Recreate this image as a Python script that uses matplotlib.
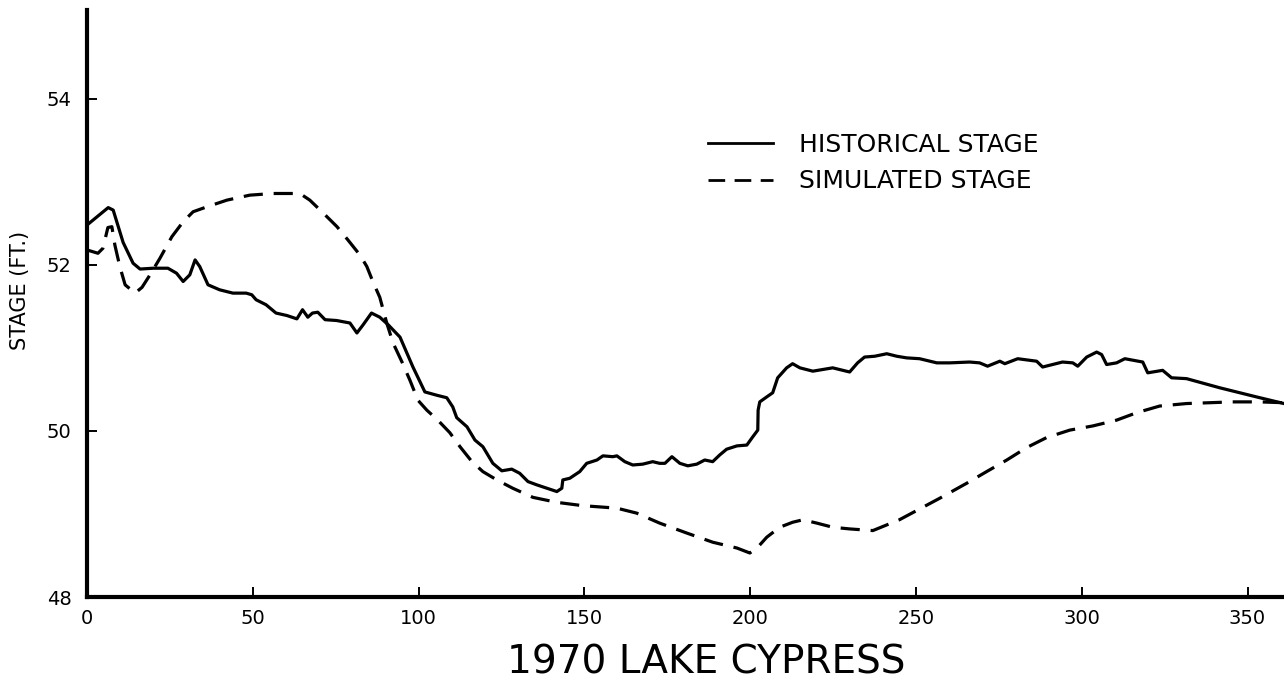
import matplotlib
matplotlib.use("Agg")
import matplotlib.pyplot as plt

# Lake Cypress, 1970: observed vs. simulated stage (ft) by day of year
hist_day = [0, 6.4, 7.9, 10.9, 13.9, 16, 20, 24.4, 27, 29, 31, 32.6, 34, 36.5, 40, 44, 48,
            49.7, 51, 54, 57, 60.3, 63.3, 65, 66.6, 68, 69.6, 71.8, 75.3, 79.3, 81.4, 83.3,
            85.8, 88.3, 90.8, 94.4, 98.3, 101.9, 105.5, 108.5, 110.3, 111.5, 114.6, 117,
            119.4, 122.4, 125.1, 128.1, 130.5, 133, 135.7, 138.7, 141.7, 143.2, 143.5, 145.6,
            148.6, 150.7, 153.8, 155.6, 158.6, 159.8, 162.2, 164.6, 167.6, 170.6, 172.7,
            174.3, 176.4, 178.8, 181.2, 183.9, 186.3, 188.7, 190.8, 192.9, 196, 199, 200.8,
            202.3, 202.4, 202.9, 205, 206.8, 208.3, 211, 212.8, 215, 218.9, 224.9, 230,
            232.4, 234.5, 237.6, 241.2, 244.2, 247.2, 251.1, 256.3, 260.2, 266.2, 269.2,
            271.6, 275.3, 276.8, 280.7, 286.4, 288.2, 294.2, 297.3, 298.8, 301.5, 304.5,
            306, 307.5, 310.5, 313, 318.4, 319.9, 324.4, 327.1, 331.6, 341.6, 352.7, 361]
hist_stage = [52.48, 52.69, 52.66, 52.27, 52.02, 51.95, 51.96, 51.96, 51.90, 51.80, 51.88,
              52.06, 51.98, 51.76, 51.70, 51.66, 51.66, 51.64, 51.58, 51.52, 51.42, 51.39,
              51.35, 51.46, 51.37, 51.42, 51.43, 51.34, 51.33, 51.30, 51.18, 51.28, 51.42,
              51.37, 51.28, 51.13, 50.77, 50.47, 50.43, 50.40, 50.29, 50.16, 50.05, 49.89,
              49.81, 49.61, 49.52, 49.54, 49.49, 49.39, 49.35, 49.31, 49.27, 49.31, 49.41,
              49.43, 49.51, 49.61, 49.65, 49.70, 49.69, 49.70, 49.63, 49.59, 49.60, 49.63,
              49.61, 49.61, 49.69, 49.61, 49.58, 49.60, 49.65, 49.63, 49.71, 49.78, 49.82,
              49.83, 49.93, 50.01, 50.25, 50.35, 50.41, 50.46, 50.64, 50.76, 50.81, 50.76,
              50.72, 50.76, 50.71, 50.82, 50.89, 50.90, 50.93, 50.90, 50.88, 50.87, 50.82,
              50.82, 50.83, 50.82, 50.78, 50.84, 50.81, 50.87, 50.84, 50.77, 50.83, 50.82,
              50.78, 50.89, 50.95, 50.92, 50.80, 50.82, 50.87, 50.83, 50.70, 50.73, 50.64,
              50.63, 50.52, 50.41, 50.33]

sim_day = [0, 3.3, 4.8, 6.3, 7.5, 8.4, 9.9, 11.5, 14.5, 16.6, 19, 22, 25.6, 29, 32, 36.2,
           42.2, 49.1, 56.1, 64.2, 67.2, 71.1, 75.4, 78.7, 82.3, 84.4, 86.2, 88.3, 90.4,
           92.3, 95, 97.4, 99.8, 102.5, 105.8, 109.4, 112.5, 116.1, 119.4, 123.6, 128.4,
           134.5, 141.7, 149.5, 159.8, 165.8, 172.7, 180.9, 188.7, 196, 199.9, 202.3, 205,
           208.9, 212.8, 215.9, 220.1, 224.9, 230, 237, 245, 257.2, 265.3, 271.3, 277.4,
           283.4, 289.4, 296.4, 303.3, 310.5, 316.6, 323.5, 331.6, 338.6, 345.5, 353.6, 361]
sim_stage = [52.18, 52.14, 52.20, 52.45, 52.46, 52.24, 51.98, 51.76, 51.66, 51.73, 51.88,
             52.08, 52.34, 52.52, 52.64, 52.70, 52.78, 52.84, 52.86, 52.86, 52.78, 52.63,
             52.46, 52.30, 52.12, 51.98, 51.80, 51.61, 51.30, 51.06, 50.83, 50.61, 50.37,
             50.25, 50.13, 49.98, 49.81, 49.63, 49.51, 49.41, 49.31, 49.20, 49.14, 49.10,
             49.07, 49.01, 48.89, 48.77, 48.66, 48.59, 48.53, 48.60, 48.72, 48.84, 48.90,
             48.93, 48.89, 48.84, 48.82, 48.80, 48.93, 49.19, 49.37, 49.51, 49.65, 49.80,
             49.92, 50.01, 50.06, 50.13, 50.22, 50.30, 50.33, 50.34, 50.35, 50.35, 50.34]

x_ticks = [0, 50, 100, 150, 200, 250, 300, 350]
x_tick_labels = ["0", "50", "100", "150", "200", "250", "300", "350"]
y_ticks = [48, 50, 52, 54]
y_tick_labels = ["48", "50", "52", "54"]
series_labels = ["HISTORICAL STAGE", "SIMULATED STAGE"]
title_text = "1970 LAKE CYPRESS"
y_label_text = "STAGE (FT.)"

W, H = 1284, 687
fig = plt.figure(figsize=(W / 100, H / 100), dpi=100)
fig.patch.set_facecolor("white")

ax_left, ax_bottom_px, ax_top_px = 87, 597, 10
ax = fig.add_axes([ax_left / W, 1 - ax_bottom_px / H,
                   1 - ax_left / W, (ax_bottom_px - ax_top_px) / H])

line_w = 2.3
h_line, = ax.plot(hist_day, hist_stage, color="black", lw=line_w,
                  solid_joinstyle="round", label=series_labels[0])
s_line, = ax.plot(sim_day, sim_stage, color="black", lw=line_w,
                  dashes=(6.0, 3.4), label=series_labels[1])

ax.set_xlim(0, 361)
ax.set_ylim(48, 55.07)

for side in ("top", "right"):
    ax.spines[side].set_visible(False)
for side in ("left", "bottom"):
    ax.spines[side].set_linewidth(3.0)
    ax.spines[side].set_color("black")

ax.set_xticks(x_ticks)
ax.set_xticklabels(x_tick_labels)
ax.set_yticks(y_ticks)
ax.set_yticklabels(y_tick_labels)
ax.tick_params(axis="both", direction="in", length=7, width=1.4, colors="black",
               labelsize=14)
ax.tick_params(axis="x", pad=9)
ax.tick_params(axis="y", pad=11)

fig.text(20 / W, 1 - 290 / H, y_label_text, rotation=90, ha="center", va="center",
         fontsize=15)
fig.text(706 / W, 1 - 662 / H, title_text, ha="center", va="center", fontsize=28)

leg = ax.legend(handles=[h_line, s_line], loc="center left",
                bbox_to_anchor=(708 / W, 1 - 163 / H), bbox_transform=fig.transFigure,
                frameon=False, fontsize=18, handlelength=2.6, handletextpad=1.05,
                labelspacing=0.5, borderpad=0, borderaxespad=0)
for handle in leg.legend_handles:
    handle.set_linewidth(2.0)

fig.savefig("out.png", dpi=100, facecolor="white")
